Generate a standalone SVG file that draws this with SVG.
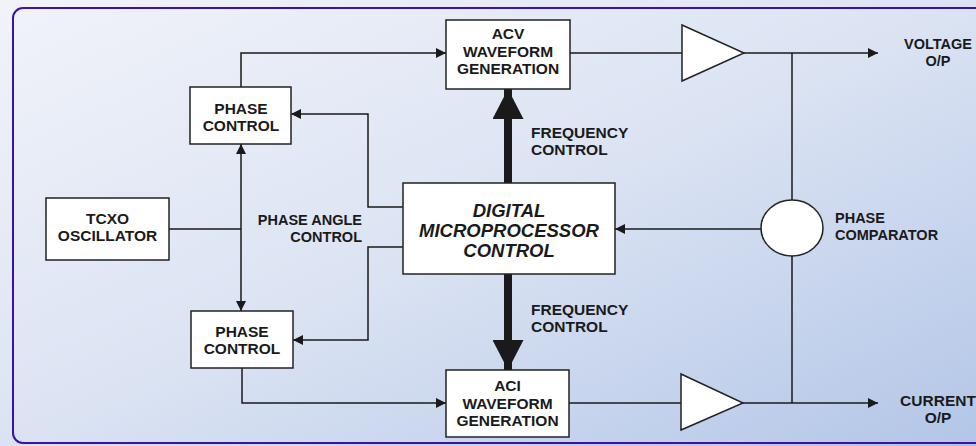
<svg xmlns="http://www.w3.org/2000/svg" width="976" height="446" viewBox="0 0 976 446">
<defs>
<linearGradient id="bg" x1="0" y1="0" x2="1" y2="1">
<stop offset="0" stop-color="#f1f3f9"/>
<stop offset="0.5" stop-color="#dbe3f3"/>
<stop offset="1" stop-color="#b3c6e7"/>
</linearGradient>
<marker id="ah" viewBox="0 0 10 10" refX="10" refY="5" markerWidth="10" markerHeight="10" markerUnits="userSpaceOnUse" orient="auto">
<path d="M0,0 L10,5 L0,10 Z" fill="#1a1a1a"/>
</marker>
<marker id="big" viewBox="0 0 30 31" refX="30" refY="15.5" markerWidth="30" markerHeight="31" markerUnits="userSpaceOnUse" orient="auto">
<path d="M0,0 L30,15.5 L0,31 Z" fill="#1a1a1a"/>
</marker>
</defs>
<style>
.box{fill:#fff;stroke:#222;stroke-width:1.5}
.ln{fill:none;stroke:#1a1a1a;stroke-width:1.5}
.t{font-family:"Liberation Sans",Arial,sans-serif;font-weight:bold;font-size:15.5px;fill:#1a1a1a}
.s{font-size:14.5px}
.c{text-anchor:middle}
.i{font-style:italic;font-size:18.5px}
</style>
<rect x="0" y="0" width="976" height="446" fill="url(#bg)"/>
<rect x="13" y="8" width="990" height="435" rx="10" fill="none" stroke="#3a12a8" stroke-width="2"/>

<g id="connectors">
<path class="ln" d="M241,87 V53 H446" marker-end="url(#ah)"/>
<path class="ln" d="M241,229 V144" marker-end="url(#ah)"/>
<path class="ln" d="M241,229 V311" marker-end="url(#ah)"/>
<path class="ln" d="M169,229 H241"/>
<path class="ln" d="M403,207 H368 V114 H291" marker-end="url(#ah)"/>
<path class="ln" d="M403,247 H368 V340 H293" marker-end="url(#ah)"/>
<path class="ln" d="M242,368 V403 H446" marker-end="url(#ah)"/>
<path fill="none" stroke="#1a1a1a" stroke-width="8" d="M508,183 V89" marker-end="url(#big)"/>
<path fill="none" stroke="#1a1a1a" stroke-width="8" d="M508,274 V370" marker-end="url(#big)"/>
<path class="ln" d="M570,53 H682"/>
<path class="ln" d="M744,53 H878" marker-end="url(#ah)"/>
<path class="ln" d="M792,53 V200"/>
<path class="ln" d="M761,229 H615" marker-end="url(#ah)"/>
<path class="ln" d="M792,256 V403"/>
<path class="ln" d="M569,403 H681"/>
<path class="ln" d="M743,403 H878" marker-end="url(#ah)"/>
</g>

<g id="phase-control-top">
<rect class="box" x="190" y="87" width="101" height="57"/>
<text class="t c" x="241" y="114">PHASE</text>
<text class="t c" x="241" y="131">CONTROL</text>
</g>
<g id="phase-control-bottom">
<rect class="box" x="191" y="311" width="102" height="57"/>
<text class="t c" x="242" y="337">PHASE</text>
<text class="t c" x="242" y="354">CONTROL</text>
</g>
<g id="tcxo">
<rect class="box" x="46" y="198" width="123" height="62"/>
<text class="t c" x="107.5" y="224">TCXO</text>
<text class="t c" x="107.5" y="241">OSCILLATOR</text>
</g>
<g id="acv">
<rect class="box" x="446" y="20" width="124" height="69"/>
<text class="t c" x="508" y="39">ACV</text>
<text class="t c" x="508" y="57">WAVEFORM</text>
<text class="t c" x="508" y="74">GENERATION</text>
</g>
<g id="aci">
<rect class="box" x="446" y="370" width="123" height="67"/>
<text class="t c" x="507.5" y="391">ACI</text>
<text class="t c" x="507.5" y="409">WAVEFORM</text>
<text class="t c" x="507.5" y="426">GENERATION</text>
</g>
<g id="digital">
<rect class="box" x="403" y="183" width="212" height="91"/>
<text class="t c i" x="509" y="217">DIGITAL</text>
<text class="t c i" x="509" y="237">MICROPROCESSOR</text>
<text class="t c i" x="509" y="257">CONTROL</text>
</g>
<g id="amp-top">
<path class="box" d="M682,25 L744,53 L682,81 Z"/>
</g>
<g id="amp-bottom">
<path class="box" d="M681,374 L743,403 L681,430 Z"/>
</g>
<g id="phase-comparator">
<ellipse class="box" cx="792" cy="228" rx="31" ry="28"/>
<text class="t s" x="835" y="223">PHASE</text>
<text class="t s" x="835" y="240">COMPARATOR</text>
</g>
<g id="labels">
<text class="t s" text-anchor="end" x="362" y="225">PHASE ANGLE</text>
<text class="t s" text-anchor="end" x="362" y="242">CONTROL</text>
<text class="t" x="531" y="138">FREQUENCY</text>
<text class="t" x="531" y="155">CONTROL</text>
<text class="t" x="531" y="315">FREQUENCY</text>
<text class="t" x="531" y="332">CONTROL</text>
<text class="t s c" x="938" y="49">VOLTAGE</text>
<text class="t s c" x="938" y="66">O/P</text>
<text class="t c" x="938" y="406">CURRENT</text>
<text class="t c" x="938" y="423">O/P</text>
</g>
</svg>
